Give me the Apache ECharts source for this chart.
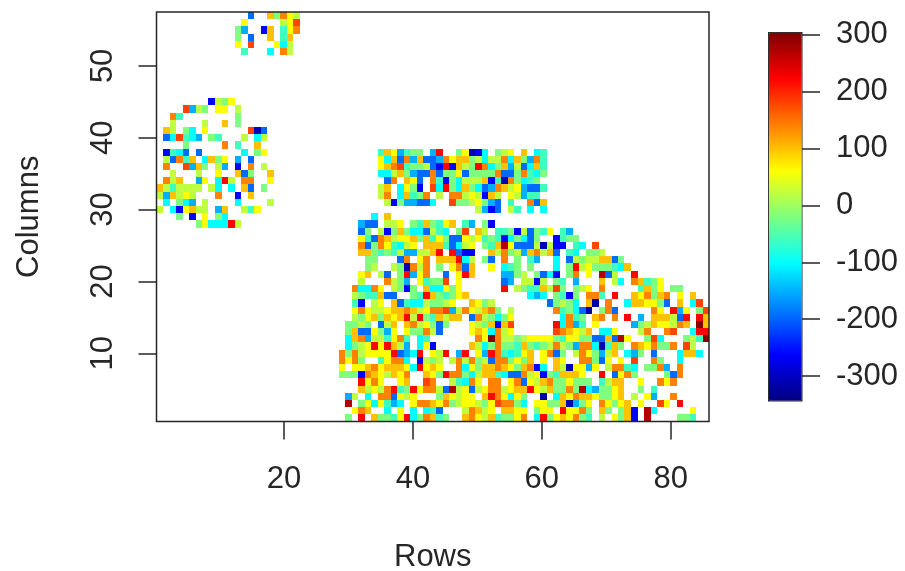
<!DOCTYPE html>
<html><head><meta charset="utf-8">
<style>html,body{margin:0;padding:0;background:#fff}#c{width:905px;height:571px}</style>
<script src="https://cdn.jsdelivr.net/npm/echarts@6/dist/echarts.min.js"></script>
</head><body><div id="c"></div>
<script>
// Value codes (colour -> approximate value)
const levelCodes  = ['n','b','d','c','a','t','g','l','y','o','O','r','R','D','K'];
const levelValues = [-310,-260,-195,-150,-100,-60,-20,20,60,100,140,180,220,270,300];
// One string per image line, top (Columns = 57) to bottom (Columns = 1).
// "start-row + codes"; '.' is an empty cell.
const rowCells = [
"15d,18ogOyl","14y,20lyr","13gc,17bo,20tyO","13g,15d,18o,20to","13y,15r,19yal","14t,18a,20Ol",
"","","","","","",
"9blgy","5rclg,10yy,13l","3Ot,13g","3l,8l,11o,13g","2ol,5ga,8y,15rnd",
"2dartac,9gt,14l,16al","5g,11O,13t,16o",
"2btad,7d,14a,16gy,35toyctgg,43cR,47gynba,53gly,57o,59at",
"2ldOto,8aogy,13c,15d,35yaodOcoddcOyooglallOaogcOt",
"2O,5rcog,10lc,13b,15O,17l,35yoOrtggldbRbolgROagocldaot",
"3l,7l,10y,13odg,18o,35aalogcddOdggydggggOddgOtag",
"2Olo,7cy,10aRl,14OO,18y,36dO,39oyd,43OtbgalllobtnOgatg",
"1oltllll,9la,12a,14od,17g,35lo,38aygb,43raRgaogadcOolycddt",
"1lcolyl,10O,13b,15o,35lO,38aotgO,44l,46OOlylbol,55ylctt",
"2a,4gac,8l,13a,18l,36lbgccdda,46rgglygcd,55t,58Odo",
"1l,3abyoll,10co,14lty,50lcbd,55lt,58a,60a",
"4g,6b,8y,10ga,34a,36o",
"7gyaaaRl,32cdd,36lly,40gtogtyo,48tc,51gb",
"32dg,35lbgogaadlta,47gr,50ol,53ttgbldgty,63tc",
"32ytdOolyyogotygddylytgtbagadg,62btgg",
"32OdgOytaly.oootdaly.gtoDydddlnlbb.ta.r",
"32oogtgtlcclloR.Rdbb..olOglcoOlod.ta.ggl",
"33gg,38dO,41yO,44oooRal,51gd,54O,56g,58tc,62a,64dlglloodg",
"33gl,37lgnOlO,44g,46yOdo,52y,54atg,58g,62a,64gRlygggtao",
"32yo,35ld,38gRcyO,45d,47yRo,54ccgl,59gdab,64gO,67y,69Ddl,74R",
"32l,36Olgc,41ytggr,47y,54dc,57llbl,62gt,65c,69o,71la,74Ootgy",
"31OaaOy.lgbg.oaaygy,54R,56lgttolrg,65gly,69O,75togy,80gg",
"31lgttodd..gtRogtgyo,58aca,62gtbg,67OOt,71R,74oyOgoO,81y,83o",
"31tb,34ly,37odtaalggly,49oygl,61dglga,67on,70O,73aooyygd,81o,83ar",
"31yOyllyooOolyOOrclOyloOg.l,62Otgadn,69gOd,77Oy,80Rcy,84gr",
"31lgyogoyoRlRgtoloo.dOlgagy,63aOtg,68oO,71O,73R,75c,77oooldR,84Ro",
"30gglg.dlo.oOlygdg,49ylgobor,62RaOct,68y,74cgloyylOo,84Ko",
"30goddygcy.yggOld,49yoyaOly,62rOoylo,69aay,75lO,79Or,83aRR",
"30aoOclltyOt.at,50OyKOllglyyyygtyyggddodDy,76gra,82gltK",
"30aglyRyRolc.ayb,49olagOggtogtglOlgcOOantog,74OoyOggO,82rl",
"29OgOlyyyyRdcaR.ylR.cR.ycROtatyo,60yOdg,65lOygclo,73acg,77d,81aooa",
"29OyOg,35tyOOa,41blgl,46lOlOgldOOgygo,60y,62oy,66OOgdy,72y,74r,77Og,81a",
"29y.yyoOyoooyaRyoy,47OaygooOoygoOba,62olnyycy,70lOOta,76ggOc,81O",
"29gggbOoyloyO,42oygROOgalootaddOlybgtoooy,69R,71dyOg,79gdO",
"32RyOy,38yo,42rO,46ltaOy,52OO,55yOdyloOggyggg,69tloo,75y,78OyO",
"32olylORtgRyOOldDlydlyOOlyooRyloggOgDacggyo,75g,77t",
"30cl,33a,35OOdyly,44goylyy,51oROyayg,60n,62aoyOooyggyo,74l,76yc,80O",
"30D,32gyaytca,40yOOoyOglyylgyrOOga,59yygg,63oncgy,69Oygyo,75y,78ry,81R",
"31yOo,36a,38y,40a,42atd,48lOoly,54ooyy,59gyy,63RyyOg,69og,72gob,76Da,83y",
"30g,32R,34oggtyRagOotg,48oOylotggyO,59aRgyoyOgt,69l,71ygob,76D,81ggt"
];
const xTicks = [20,40,60,80];
const yTicks = [10,20,30,40,50];
const barTicks = [-300,-200,-100,0,100,200,300];
const jet = ['#00007F','#0000FF','#007FFF','#00FFFF','#7FFF7F','#FFFF00','#FF7F00','#FF0000','#7F0000'];

const xMin = 0.2, xMax = 85.95, yMin = 0.5, yMax = 57.5, colCount = 85, lineCount = 57;
const cellW = (xMax - xMin) / colCount;

const cells = [];
rowCells.forEach((line, i) => {
  if (!line) return;
  const k = lineCount - i;
  line.split(',').forEach(seg => {
    const m = seg.match(/^(\d+)(.+)$/);
    let c = +m[1];
    for (const ch of m[2]) {
      if (ch !== '.') cells.push([c, k, levelValues[levelCodes.indexOf(ch)]]);
      c++;
    }
  });
});

const font = '"Liberation Sans", Arial, sans-serif';
const fs = 31, ink = '#262626';
const lineSt = {color: ink, width: 1.5};

const chart = echarts.init(document.getElementById('c'), null, {renderer: 'canvas'});
chart.setOption({
  animation: false,
  backgroundColor: '#fff',
  textStyle: {fontFamily: font},
  grid: [
    {left: 156.5, top: 12, width: 552.5, height: 409.5, show: true, borderColor: ink, borderWidth: 1.5, backgroundColor: 'transparent', z: 3, outerBoundsMode: 'none'},
    {left: 768, top: 33, width: 34, height: 367, outerBoundsMode: 'none'}
  ],
  xAxis: [
    {type: 'value', gridIndex: 0, min: xMin, max: xMax, position: 'bottom',
     splitLine: {show: false}, axisLine: {show: false},
     axisTick: {show: true, length: 18, lineStyle: lineSt, customValues: xTicks},
     axisLabel: {show: true, color: ink, fontSize: fs, fontFamily: font, margin: 42, customValues: xTicks},
     name: 'Rows', nameLocation: 'middle', nameGap: 120, nameTextStyle: {fontSize: fs, color: ink, fontFamily: font}},
    {type: 'value', gridIndex: 1, min: 0, max: 1, show: false}
  ],
  yAxis: [
    {type: 'value', gridIndex: 0, min: yMin, max: yMax, position: 'left',
     splitLine: {show: false}, axisLine: {show: false},
     axisTick: {show: true, length: 18, lineStyle: lineSt, customValues: yTicks},
     axisLabel: {show: true, rotate: 90, color: ink, fontSize: fs, fontFamily: font, margin: 38, customValues: yTicks},
     name: 'Columns', nameLocation: 'middle', nameGap: 112, nameTextStyle: {fontSize: fs, color: ink, fontFamily: font}},
    {type: 'value', gridIndex: 1, min: -342, max: 303, position: 'right',
     splitLine: {show: false}, axisLine: {show: false, onZero: false},
     axisTick: {show: true, length: 18, lineStyle: lineSt, customValues: barTicks},
     axisLabel: {show: true, color: ink, fontSize: fs, fontFamily: font, margin: 34, padding: [5, 0, 0, 0], customValues: barTicks}}
  ],
  visualMap: {
    type: 'continuous', seriesIndex: 0, dimension: 2, min: -342, max: 303,
    orient: 'vertical', left: 768, top: 32, itemWidth: 33, itemHeight: 368,
    padding: 0, calculable: false, realtime: false, text: null, showLabel: false,
    borderColor: ink, borderWidth: 1.5,
    inRange: {color: jet}, textStyle: {fontSize: 1, color: 'transparent'}
  },
  series: [{
    type: 'custom', xAxisIndex: 0, yAxisIndex: 0, coordinateSystem: 'cartesian2d',
    clip: true, silent: true, encode: {x: 0, y: 1},
    data: cells,
    renderItem(params, api) {
      const c = api.value(0), k = api.value(1);
      const p0 = api.coord([xMin + (c - 1) * cellW, k + 0.5]);
      const p1 = api.coord([xMin + c * cellW, k - 0.5]);
      const x0 = Math.round(p0[0]), y0 = Math.round(p0[1]);
      const x1 = Math.round(p1[0]), y1 = Math.round(p1[1]);
      return {type: 'rect', shape: {x: x0, y: y0, width: x1 - x0, height: y1 - y0},
              style: {fill: api.visual('color')}};
    }
  }]
});
</script></body></html>
